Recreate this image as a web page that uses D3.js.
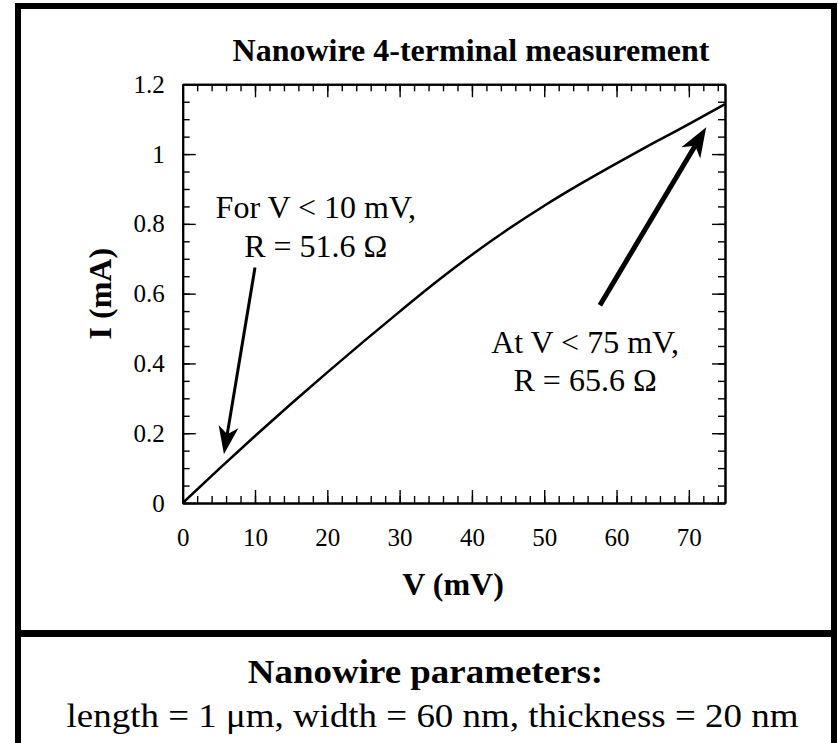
<!DOCTYPE html>
<html>
<head>
<meta charset="utf-8">
<script src="https://cdn.jsdelivr.net/npm/d3@7"></script>
<style>
  body { margin: 0; background: #fff; }
  svg { display: block; font-family: "Liberation Serif", "Times New Roman", serif; }
</style>
</head>
<body>
<svg width="838" height="743"></svg>
<script>
var voltage = [0, 5, 10, 15, 20, 25, 30, 35, 40, 45, 50, 55, 60, 65, 70, 75];
var current = [0, 0.097, 0.192, 0.2845, 0.3745, 0.4625, 0.5485, 0.6325, 0.7115, 0.7845, 0.852, 0.9145, 0.9735, 1.0305, 1.086, 1.143];

var xTicks = [0, 10, 20, 30, 40, 50, 60, 70];
var yTicks = [0, 0.2, 0.4, 0.6, 0.8, 1, 1.2];
var yTickLabels = ["0", "0.2", "0.4", "0.6", "0.8", "1", "1.2"];
var xMinor = d3.range(0, 76, 2);
var yMinor = d3.range(0, 25).map(function(i) { return i * 0.05; });

// annotations, positions in data units (mV, mA)
var noteLow = ["For V < 10 mV,", "R = 51.6 \u03A9"];
var noteHigh = ["At V < 75 mV,", "R = 65.6 \u03A9"];
var arrowLow = [[10.0, 0.675], [5.7, 0.140]];
var arrowHigh = [[57.7, 0.567], [72.4, 1.077]];

var svg = d3.select("svg"),
    width = +svg.attr("width"),
    height = +svg.attr("height");

var plotL = 182.7, plotR = 725, plotT = 84.3, plotB = 503;

var x = d3.scaleLinear().domain([0, 75]).range([plotL, plotR]);
var y = d3.scaleLinear().domain([0, 1.2]).range([plotB, plotT]);

// outer frame + divider
svg.append("rect")
    .attr("x", 18).attr("y", 6)
    .attr("width", 816).attr("height", 780)
    .attr("fill", "none").attr("stroke", "#000").attr("stroke-width", 6);
svg.append("line")
    .attr("x1", 18).attr("x2", 834)
    .attr("y1", 633.5).attr("y2", 633.5)
    .attr("stroke", "#000").attr("stroke-width", 7);

function styleAxis(g, labelSize) {
    g.select(".domain").attr("stroke-width", 2);
    g.selectAll(".tick line").attr("stroke-width", 1.4);
    g.selectAll(".tick text")
        .attr("font-family", "Liberation Serif, serif")
        .attr("font-size", labelSize)
        .attr("fill", "#000");
}

// minor ticks on all four sides
svg.append("g").attr("transform", "translate(0," + plotB + ")")
    .call(d3.axisBottom(x).tickValues(xMinor).tickSize(-7).tickSizeOuter(0).tickFormat(""))
    .call(styleAxis, 25);
svg.append("g").attr("transform", "translate(0," + plotT + ")")
    .call(d3.axisTop(x).tickValues(xMinor).tickSize(-7).tickSizeOuter(0).tickFormat(""))
    .call(styleAxis, 25);
svg.append("g").attr("transform", "translate(" + plotL + ",0)")
    .call(d3.axisLeft(y).tickValues(yMinor).tickSize(-7).tickSizeOuter(0).tickFormat(""))
    .call(styleAxis, 25);
svg.append("g").attr("transform", "translate(" + plotR + ",0)")
    .call(d3.axisRight(y).tickValues(yMinor).tickSize(-7).tickSizeOuter(0).tickFormat(""))
    .call(styleAxis, 25);

// major ticks
svg.append("g").attr("transform", "translate(0," + plotB + ")")
    .call(d3.axisBottom(x).tickValues(xTicks).tickSize(-13).tickSizeOuter(0).tickPadding(25))
    .call(styleAxis, 25);
svg.append("g").attr("transform", "translate(0," + plotT + ")")
    .call(d3.axisTop(x).tickValues(xTicks).tickSize(-13).tickSizeOuter(0).tickFormat(""))
    .call(styleAxis, 25);
svg.append("g").attr("transform", "translate(" + plotL + ",0)")
    .call(d3.axisLeft(y).tickValues(yTicks).tickSize(-13).tickSizeOuter(0).tickPadding(18)
        .tickFormat(function(d, i) { return yTickLabels[i]; }))
    .call(styleAxis, 25);
svg.append("g").attr("transform", "translate(" + plotR + ",0)")
    .call(d3.axisRight(y).tickValues(yTicks).tickSize(-13).tickSizeOuter(0).tickFormat(""))
    .call(styleAxis, 25);

// curve
var pts = voltage.map(function(v, i) { return [v, current[i]]; });
svg.append("path")
    .datum(pts)
    .attr("fill", "none")
    .attr("stroke", "#000")
    .attr("stroke-width", 2.5)
    .attr("d", d3.line()
        .x(function(d) { return x(d[0]); })
        .y(function(d) { return y(d[1]); })
        .curve(d3.curveMonotoneX));

// titles
svg.append("text")
    .attr("x", 471).attr("y", 61)
    .attr("text-anchor", "middle")
    .attr("font-size", 32).attr("font-weight", "bold")
    .text("Nanowire 4-terminal measurement");

svg.append("text")
    .attr("x", 453).attr("y", 595)
    .attr("text-anchor", "middle")
    .attr("font-size", 32).attr("font-weight", "bold")
    .text("V (mV)");

svg.append("text")
    .attr("transform", "translate(111," + ((plotT + plotB) / 2) + ") rotate(-90)")
    .attr("text-anchor", "middle")
    .attr("font-size", 32).attr("font-weight", "bold")
    .text("I (mA)");

// annotation text
function note(lines, v, i, gap) {
    var t = svg.append("text")
        .attr("text-anchor", "middle")
        .attr("font-size", 32);
    lines.forEach(function(s, k) {
        t.append("tspan")
            .attr("x", x(v))
            .attr("y", y(i) + k * gap)
            .text(s);
    });
}
note(noteLow, 18.4, 0.8175, 39);
note(noteHigh, 55.65, 0.4307, 38);

// arrows
function arrow(a, w, headLen, headHalf) {
    var x0 = x(a[0][0]), y0 = y(a[0][1]),
        x1 = x(a[1][0]), y1 = y(a[1][1]);
    var dx = x1 - x0, dy = y1 - y0, len = Math.sqrt(dx * dx + dy * dy);
    var ux = dx / len, uy = dy / len, nx = -uy, ny = ux;
    var bx = x1 - ux * headLen, by = y1 - uy * headLen;
    var mx = x1 - ux * headLen * 0.72, my = y1 - uy * headLen * 0.72;
    svg.append("line")
        .attr("x1", x0).attr("y1", y0)
        .attr("x2", mx).attr("y2", my)
        .attr("stroke", "#000").attr("stroke-width", w);
    svg.append("polygon")
        .attr("fill", "#000")
        .attr("points", [
            [x1, y1],
            [bx + nx * headHalf, by + ny * headHalf],
            [mx, my],
            [bx - nx * headHalf, by - ny * headHalf]
        ].map(function(p) { return p.join(","); }).join(" "));
}
arrow(arrowLow, 3, 28, 10);
arrow(arrowHigh, 5, 30, 11);

// parameters panel
svg.append("text")
    .attr("transform", "translate(425.5,683.3) scale(1.12,1)")
    .attr("text-anchor", "middle")
    .attr("font-size", 33).attr("font-weight", "bold")
    .text("Nanowire parameters:");
svg.append("text")
    .attr("transform", "translate(432.5,726.7) scale(1.12,1)")
    .attr("text-anchor", "middle")
    .attr("font-size", 33)
    .text("length = 1 \u03BCm, width = 60 nm, thickness = 20 nm");
</script>
</body>
</html>
